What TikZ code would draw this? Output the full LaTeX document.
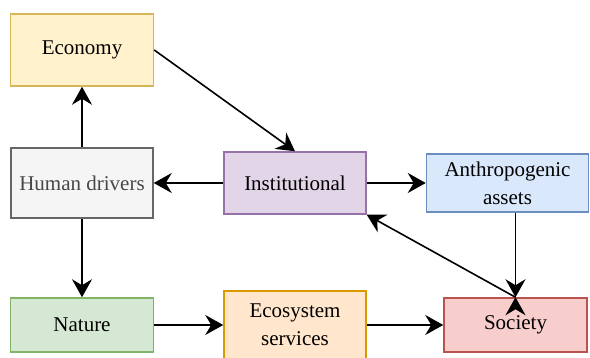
\documentclass[tikz,border=0pt]{standalone}
\usepackage{fontspec}
\setmainfont{Liberation Serif}
\usetikzlibrary{arrows.meta}

\begin{document}
\begin{tikzpicture}[x=1pt, y=-1pt, font=\fontsize{21}{28}\selectfont]
  \tikzstyle{sys_box}   = [shape = rectangle, line width=1.5pt, align=center, inner sep=2pt]
  \tikzstyle{sys_flow}  = [-{Stealth[length=18pt, width=20pt, inset=6pt]}, line width=1.6pt]

  \definecolor{econ_fill}{HTML}{FFF2CC} \definecolor{econ_line}{HTML}{D6B656}
  \definecolor{hum_fill}{HTML}{F5F5F5}  \definecolor{hum_line}{HTML}{666666}
  \definecolor{inst_fill}{HTML}{E1D5E7} \definecolor{inst_line}{HTML}{9673A6}
  \definecolor{anth_fill}{HTML}{DAE8FC} \definecolor{anth_line}{HTML}{6C8EBF}
  \definecolor{nat_fill}{HTML}{D5E8D4}  \definecolor{nat_line}{HTML}{82B366}
  \definecolor{eco_fill}{HTML}{FFE6CC}  \definecolor{eco_line}{HTML}{D79B00}
  \definecolor{soc_fill}{HTML}{F8CECC}  \definecolor{soc_line}{HTML}{B85450}

  \useasboundingbox (0,0) rectangle (590,358);

  \node[sys_box, fill=econ_fill, draw=econ_line, minimum width=143pt, minimum height=72pt]
    at ( 82.0, 50.0) (econ) {Economy};
  \node[sys_box, fill=hum_fill, draw=hum_line, text=hum_line!70!black, minimum width=142pt, minimum height=70pt]
    at ( 82.0,183.0) (hum)  {Human drivers};
  \node[sys_box, fill=inst_fill, draw=inst_line, minimum width=142pt, minimum height=62pt]
    at (295.0,183.0) (inst) {Institutional};
  \node[sys_box, fill=anth_fill, draw=anth_line, minimum width=162pt, minimum height=58pt]
    at (507.5,183.0) (anth) {Anthropogenic\\assets};
  \node[sys_box, fill=nat_fill, draw=nat_line, minimum width=143pt, minimum height=54pt]
    at ( 82.0,325.0) (nat)  {Nature};
  \node[sys_box, fill=eco_fill, draw=eco_line, minimum width=142pt, minimum height=68pt]
    at (295.0,325.0) (eco)  {Ecosystem\\services};
  \node[sys_box, fill=soc_fill, draw=soc_line, minimum width=143pt, minimum height=54pt]
    at (515.5,325.0) (soc)  {Society};

  \draw[sys_flow]
    (hum)  edge (econ)
    (hum)  edge (nat)
    (econ.east) edge (inst.north)
    (inst) edge (hum)
    (inst) edge (anth)
    (nat)  edge (eco)
    (eco)  edge (soc)
    (soc.north |- anth.south) edge (soc.north)
    (soc.north) edge (inst.south east)
  ;

\end{tikzpicture}
\end{document}
